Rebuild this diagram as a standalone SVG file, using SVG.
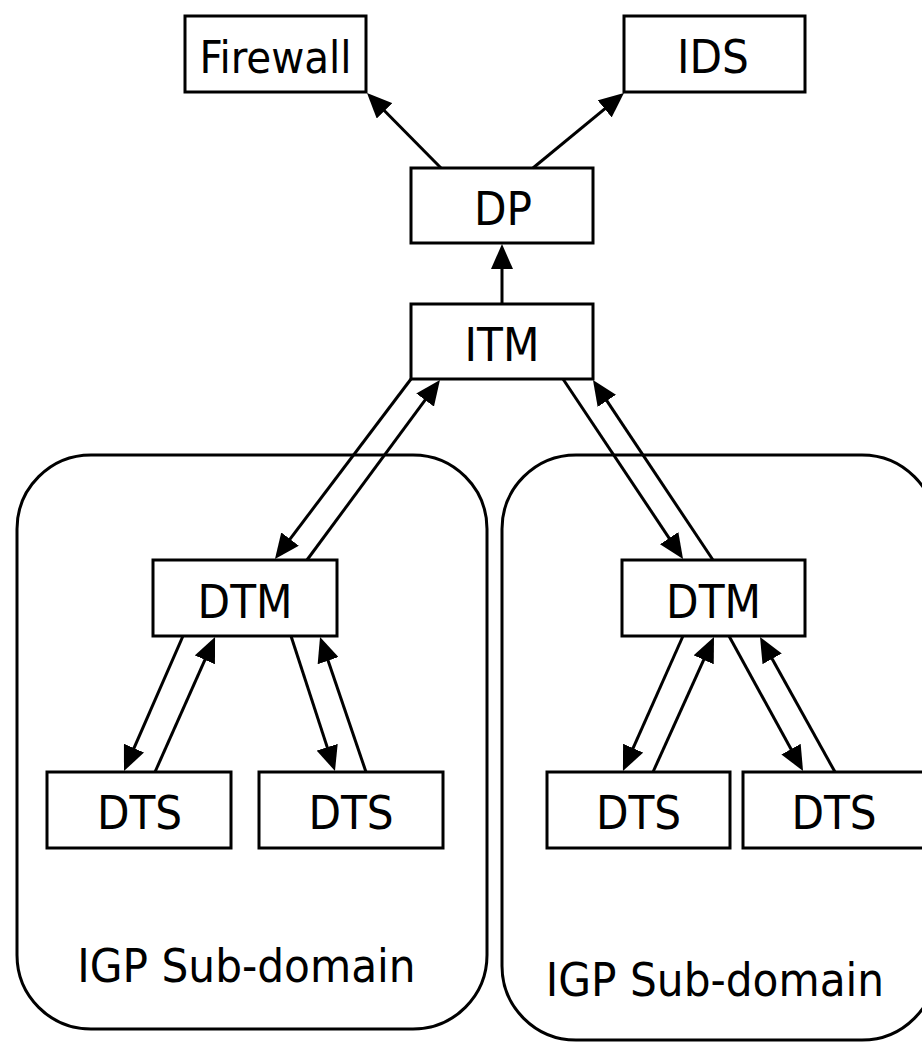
<svg xmlns="http://www.w3.org/2000/svg" width="922" height="1042" viewBox="0 0 922 1042">
<style>
.box{fill:#fff;stroke:#000;stroke-width:3}
.dom{fill:none;stroke:#000;stroke-width:3}
.lbl{font-family:"DejaVu Sans Condensed","DejaVu Sans",sans-serif;font-stretch:condensed;font-size:47px;fill:#000;text-anchor:middle}
.edge{stroke:#000;stroke-width:3;fill:none;marker-end:url(#ah)}
</style>
<defs>
<marker id="ah" viewBox="0 0 25 22" refX="17" refY="11" markerWidth="25" markerHeight="22" markerUnits="userSpaceOnUse" orient="auto">
<path d="M0,0 L25,11 L0,22 z" fill="#000"/>
</marker>
</defs>
<rect width="922" height="1042" fill="#fff"/>
<g id="domain-left">
<rect class="dom" x="17" y="455" width="470" height="574" rx="74" ry="74"/>
<text class="lbl" x="246.5" y="982">IGP Sub-domain</text>
</g>
<g id="domain-right">
<rect class="dom" x="502" y="455" width="434" height="585" rx="74" ry="74"/>
<text class="lbl" x="715" y="996">IGP Sub-domain</text>
</g>
<g id="firewall"><rect class="box" x="185" y="16" width="181" height="76"/><text class="lbl" x="275.5" y="73" style="font-size:45px">Firewall</text></g>
<g id="ids"><rect class="box" x="624" y="16" width="181" height="76"/><text class="lbl" x="713" y="73">IDS</text></g>
<g id="dp"><rect class="box" x="411" y="168" width="182" height="75"/><text class="lbl" x="503" y="225">DP</text></g>
<g id="itm"><rect class="box" x="411" y="304" width="182" height="75"/><text class="lbl" x="502" y="361">ITM</text></g>
<g id="dtm-left"><rect class="box" x="153" y="560" width="184" height="76"/><text class="lbl" x="245" y="618">DTM</text></g>
<g id="dtm-right"><rect class="box" x="622" y="560" width="183" height="76"/><text class="lbl" x="713.5" y="618">DTM</text></g>
<g id="dts-l1"><rect class="box" x="47" y="772" width="184" height="76"/><text class="lbl" x="139.5" y="829">DTS</text></g>
<g id="dts-l2"><rect class="box" x="259" y="772" width="184" height="76"/><text class="lbl" x="351" y="829">DTS</text></g>
<g id="dts-r1"><rect class="box" x="547" y="772" width="183" height="76"/><text class="lbl" x="638.5" y="829">DTS</text></g>
<g id="dts-r2"><rect class="box" x="743" y="772" width="183" height="76"/><text class="lbl" x="834" y="829">DTS</text></g>
<g id="connectors">
<line class="edge" x1="441" y1="168" x2="372.6" y2="98.7"/>
<line class="edge" x1="533" y1="168" x2="617.8" y2="98.1"/>
<line class="edge" x1="502" y1="304" x2="502" y2="252"/>
<line class="edge" x1="411" y1="379" x2="279.8" y2="552.6"/>
<line class="edge" x1="307" y1="560" x2="435.2" y2="386.4"/>
<line class="edge" x1="563" y1="379" x2="678.6" y2="552.3"/>
<line class="edge" x1="713" y1="560" x2="597.4" y2="386.7"/>
<line class="edge" x1="183" y1="636" x2="127.2" y2="763.7"/>
<line class="edge" x1="155" y1="772" x2="211.8" y2="644.3"/>
<line class="edge" x1="291" y1="636" x2="332.5" y2="763.4"/>
<line class="edge" x1="366" y1="772" x2="322.6" y2="644.6"/>
<line class="edge" x1="683" y1="636" x2="626.2" y2="763.7"/>
<line class="edge" x1="653" y1="772" x2="710.7" y2="644.3"/>
<line class="edge" x1="729" y1="636" x2="799.2" y2="764"/>
<line class="edge" x1="835" y1="772" x2="763.9" y2="644"/>
</g>
</svg>
